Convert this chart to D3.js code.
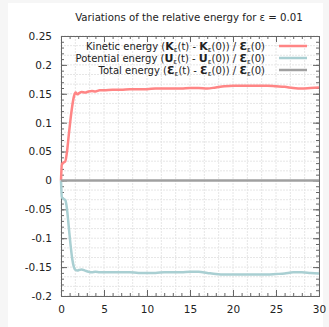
<!DOCTYPE html>
<html>
<head>
<meta charset="utf-8">
<script src="https://cdn.jsdelivr.net/npm/d3@7"></script>
<style>
  body { margin: 0; background: #f6f6f6; }
  svg { display: block; }
  text { font-family: "DejaVu Sans", Verdana, sans-serif; fill: #222; }
</style>
</head>
<body>
<svg id="chart"></svg>
<script>
// data
var times = [0, 0.1, 0.3, 0.5, 0.7, 0.9, 1.1, 1.3, 1.5, 1.7,
    1.9, 2.1, 2.4, 2.8, 3.2, 3.6, 4, 4.5, 5, 6,
    7, 8, 9, 10, 11, 12, 13, 14, 15, 16,
    17, 18, 19, 20, 21, 22, 23, 24, 25, 26,
    27, 28, 29, 30];
var kinetic = [0, 0.028, 0.031, 0.033, 0.05, 0.078, 0.105, 0.128, 0.145, 0.152,
    0.149, 0.151, 0.153, 0.152, 0.154, 0.155, 0.154, 0.156, 0.156, 0.157,
    0.157, 0.158, 0.158, 0.158, 0.159, 0.159, 0.159, 0.159, 0.16, 0.16,
    0.159, 0.161, 0.163, 0.164, 0.164, 0.164, 0.164, 0.164, 0.163, 0.162,
    0.16, 0.159, 0.16, 0.161];
var potential = [0, -0.029, -0.032, -0.034, -0.05, -0.08, -0.11, -0.135, -0.15, -0.155,
    -0.156, -0.155, -0.154, -0.156, -0.158, -0.159, -0.158, -0.159, -0.159, -0.159,
    -0.159, -0.159, -0.16, -0.16, -0.16, -0.159, -0.159, -0.159, -0.158, -0.158,
    -0.16, -0.162, -0.163, -0.163, -0.163, -0.163, -0.163, -0.163, -0.162, -0.161,
    -0.159, -0.159, -0.16, -0.161];
var total = times.map(function() { return 0; });

var xTicks = [0, 5, 10, 15, 20, 25, 30];
var yTicks = [-0.2, -0.15, -0.1, -0.05, 0, 0.05, 0.1, 0.15, 0.2, 0.25];

var series = [
    { name: 'K', values: kinetic, color: '#ff8585' },
    { name: 'U', values: potential, color: '#a9cfd2' },
    { name: 'E', values: total, color: '#a0a0a0' }
];

var width = 329,
    height = 327;

var svg = d3.select('#chart')
    .attr('width', width)
    .attr('height', height);

svg.append('rect')
    .attr('x', 8).attr('y', 3)
    .attr('width', 315).attr('height', 324)
    .style('fill', '#fff');

var x = d3.scaleLinear().domain([0, 30]).range([61, 319]);
var y = d3.scaleLinear().domain([-0.2, 0.25]).range([296, 36]);

// grid
var gridX = d3.range(0, 30.01, 5 / 3);
var gridY = d3.range(-0.2, 0.2501, 0.05 / 3);
var grid = svg.append('g').attr('class', 'grid');
grid.selectAll('.gx').data(gridX).enter().append('line')
    .attr('x1', function(d) { return x(d); })
    .attr('x2', function(d) { return x(d); })
    .attr('y1', y(-0.2)).attr('y2', y(0.25))
    .style('stroke', '#e6e6e6')
    .style('stroke-dasharray', '2,1')
    .style('stroke-width', '1px');
grid.selectAll('.gy').data(gridY).enter().append('line')
    .attr('y1', function(d) { return y(d); })
    .attr('y2', function(d) { return y(d); })
    .attr('x1', x(0)).attr('x2', x(30))
    .style('stroke', '#e6e6e6')
    .style('stroke-dasharray', '2,1')
    .style('stroke-width', '1px');

// axes with mirrored ticks
var minorX = d3.range(0, 30.01, 1);
var minorY = d3.range(-0.2, 0.2501, 0.01);

function addAxis(axis, tx, ty, labels) {
    var g = svg.append('g')
        .attr('transform', 'translate(' + tx + ',' + ty + ')')
        .call(axis);
    g.select('.domain').style('stroke', '#666').style('stroke-width', '1px');
    g.selectAll('.tick line').style('stroke', '#666');
    g.selectAll('.tick text').style('font-size', '10.5px')
        .style('font-family', '"DejaVu Sans", Verdana, sans-serif')
        .style('fill', '#222');
    if (!labels) g.selectAll('.tick text').remove();
    return g;
}

addAxis(d3.axisBottom(x).tickValues(minorX).tickSize(-3).tickFormat(''), 0, y(-0.2), false);
addAxis(d3.axisTop(x).tickValues(minorX).tickSize(-3).tickFormat(''), 0, y(0.25), false);
addAxis(d3.axisLeft(y).tickValues(minorY).tickSize(-3).tickFormat(''), x(0), 0, false);
addAxis(d3.axisRight(y).tickValues(minorY).tickSize(-3).tickFormat(''), x(30), 0, false);

addAxis(d3.axisBottom(x).tickValues(xTicks).tickSize(-6).tickPadding(10).tickFormat(d3.format('d')), 0, y(-0.2), true);
addAxis(d3.axisTop(x).tickValues(xTicks).tickSize(-6).tickFormat(''), 0, y(0.25), false);
addAxis(d3.axisLeft(y).tickValues(yTicks).tickSize(-6).tickPadding(9).tickFormat(function(d) { return String(+d.toFixed(2)); }), x(0), 0, true);
addAxis(d3.axisRight(y).tickValues(yTicks).tickSize(-6).tickFormat(''), x(30), 0, false);

// curves
var line = d3.line()
    .x(function(d, i) { return x(times[i]); })
    .y(function(d) { return y(d); })
    .curve(d3.curveMonotoneX);

svg.selectAll('.series')
    .data(series)
    .enter().append('path')
    .attr('class', 'series')
    .attr('d', function(d) { return line(d.values); })
    .style('fill', 'none')
    .style('stroke', function(d) { return d.color; })
    .style('stroke-width', '2.5px');

// title
svg.append('text')
    .attr('x', 189).attr('y', 21)
    .attr('text-anchor', 'middle')
    .style('font-size', '10.2px')
    .text('Variations of the relative energy for \u03b5 = 0.01');

// legend
var legendRows = [
    ['Kinetic energy (', ['K', true], '', 't) - ', ['K', true], '', '0)) / ', ['\u0190', true], '', '0)'],
    ['Potential energy (', ['U', true], '', 't) - ', ['U', true], '', '0)) / ', ['\u0190', true], '', '0)'],
    ['Total energy (', ['\u0190', true], '', 't) - ', ['\u0190', true], '', '0)) / ', ['\u0190', true], '', '0)']
];

legendRows.forEach(function(row, r) {
    var ly = 50 + r * 12;
    var t = svg.append('text')
        .attr('x', 265).attr('y', ly)
        .attr('text-anchor', 'end')
        .style('font-size', '10px');
    row.forEach(function(part) {
        if (Array.isArray(part)) {
            t.append('tspan').style('font-weight', 'bold').style('font-size', '11px').text(part[0]);
        } else if (part === '') {
            t.append('tspan').attr('dy', 2).style('font-size', '7px').text('\u03b5');
            t.append('tspan').attr('dy', -2).text('(');
        } else {
            t.append('tspan').text(part);
        }
    });
    svg.append('line')
        .attr('x1', 279).attr('x2', 307)
        .attr('y1', ly - 4).attr('y2', ly - 4)
        .style('stroke', series[r].color)
        .style('stroke-width', '2.5px');
});
</script>
</body>
</html>
